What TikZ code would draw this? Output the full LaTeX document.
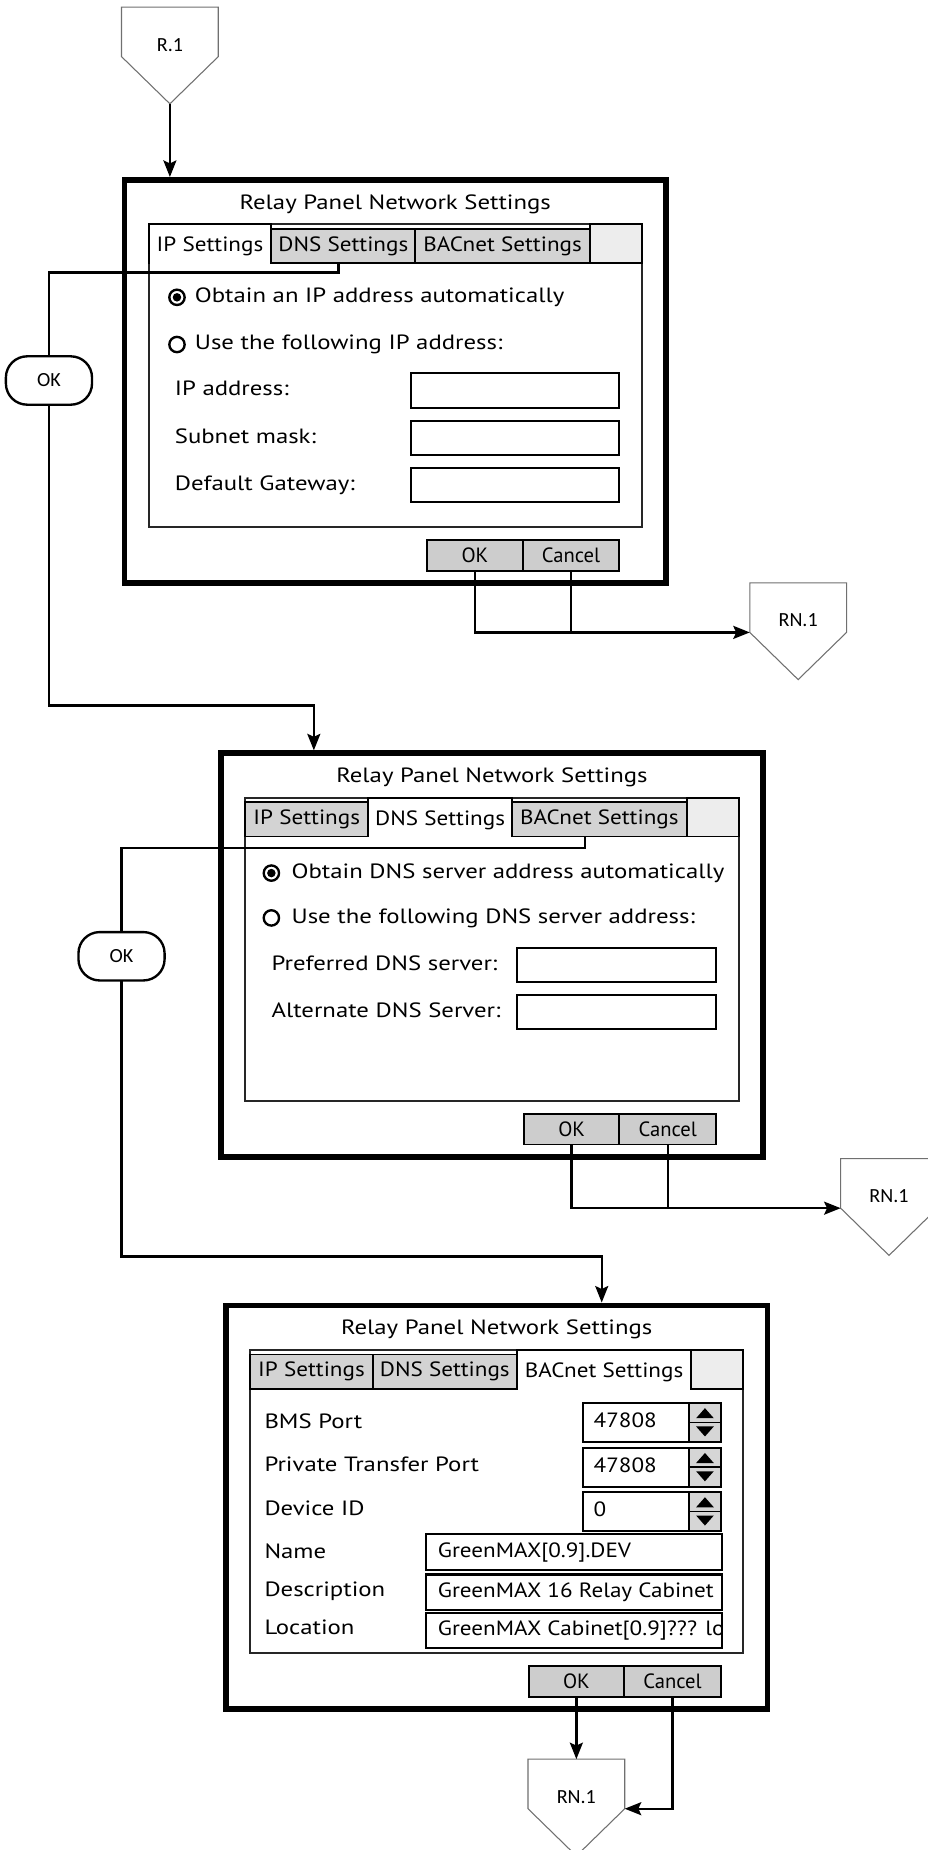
\documentclass[tikz,border=0pt]{standalone}
\usepackage{fontspec}
\setmainfont{PT Sans}[FakeStretch=1.2]
\newfontfamily\narrowfont{PT Sans}[FakeStretch=1.12]
\newfontfamily\btnfont{PT Sans}
\newfontfamily\flowfont{Carlito}
\usetikzlibrary{arrows.meta,positioning,calc}
\definecolor{tabgray}{HTML}{D3D3D3}
\definecolor{btngray}{HTML}{CDCDCD}
\definecolor{blankgray}{HTML}{EDEDED}
\definecolor{spingray}{HTML}{D6D6D6}
\definecolor{outline}{HTML}{707070}

\tikzset{
  ui/.style={font=\fontsize{17.5}{20}\selectfont},
  flowtext/.style={font=\flowfont\fontsize{17}{20}\selectfont,inner sep=0pt},
  txt/.style={ui,anchor=west,inner sep=0pt,text height=12.5pt,text depth=3.5pt},
  valtxt/.style={txt,font=\narrowfont\fontsize{17.5}{20}\selectfont},
  dlgbox/.style={draw,line width=5pt,fill=white,minimum width=459pt,
    minimum height=342pt,inner sep=0pt,anchor=north west},
  panelbox/.style={draw=black!85,line width=1.6pt,fill=white,minimum width=418pt,
    minimum height=257pt,inner sep=0pt,outer sep=0pt,anchor=north west},
  tabbox/.style={draw,line width=1.6pt,font=\narrowfont\fontsize{17.5}{20}\selectfont,
    inner sep=0pt,outer sep=0pt,anchor=south west,text height=12.5pt,text depth=3.5pt},
  acttab/.style={tabbox,fill=white,minimum height=33pt,text height=17.5pt},
  offtab/.style={tabbox,fill=tabgray,minimum height=29pt},
  btnbox/.style={draw,line width=1.6pt,fill=btngray,
    font=\btnfont\fontsize{17.5}{20}\selectfont,
    inner sep=0pt,outer sep=0pt,minimum height=26pt,anchor=north west},
  field/.style={draw,line width=1.8pt,fill=white,inner sep=0pt,outer sep=0pt,anchor=west},
  radio/.style={circle,draw,line width=2pt,minimum size=13pt,inner sep=0pt},
  radioon/.style={radio,path picture={\fill (path picture bounding box.center) circle (3.6pt);}},
  offpage/.style={minimum width=82pt,minimum height=42pt,inner sep=0pt,outer sep=0pt},
  pentline/.style={draw=outline,line width=0.9pt},
  terminal/.style={draw,line width=2pt,rounded corners=18pt,minimum width=73pt,
    minimum height=41pt,flowtext,outer sep=0pt},
  wire/.style={line width=2pt},
  flow/.style={wire,-{Stealth[length=14pt,width=11pt,inset=2.5pt]}},
}

% frame of one settings dialog: prefix, styles of the three tabs, active tab
\newcommand{\dlgframe}[5]{%
  \node[dlgbox] (#1) at (0,0) {};
  \node[ui] (#1title) at (232,23) {Relay Panel Network Settings};
  \node[panelbox] (#1panel) at (23,40) {};
  \node[tabbox,fill=blankgray,minimum width=44pt,minimum height=33pt] (#1blank) at (397,73) {};
  \node[#2,minimum width=104pt] (#1ip) at (23,73) {IP Settings};
  \node[#3,minimum width=122pt] (#1dns) at (127,73) {DNS Settings};
  \node[#4,minimum width=148pt] (#1bac) at (249,73) {BACnet Settings};
  \draw[white,line width=2pt] ([xshift=1pt]#1#5.south west) -- ([xshift=-1pt]#1#5.south east);
  \node[btnbox,minimum width=81pt] (#1ok) at (259,308) {OK};
  \node[btnbox,minimum width=82pt] (#1cancel) at (340,308) {Cancel};
}

\begin{document}
\begin{tikzpicture}[x=1pt,y=-1pt]
  \fill[white] (0,0) rectangle (786,1568);
  \useasboundingbox (0,0) rectangle (786,1568);

  % IP settings
  \begin{scope}[shift={(103,150)}]
    \dlgframe{d1}{acttab}{offtab}{offtab}{ip}
    \node[radioon] (d1auto) at (47,102) {};
    \node[txt] (d1auto-l) at (62,102) {Obtain an IP address automatically};
    \node[radio] (d1man) at (47,142) {};
    \node[txt] (d1man-l) at (62,142) {Use the following IP address:};
    \foreach \nm/\yy/\lbl in {ip/181/IP address:,mask/221/Subnet mask:,gw/261/Default Gateway:} {
      \node[txt] (d1\nm-l) at (45,\yy) {\lbl};
      \node[field,minimum width=177pt,minimum height=29pt] (d1\nm-b) at (245,\yy) {};
    }
  \end{scope}

  % DNS settings
  \begin{scope}[shift={(185,636)}]
    \dlgframe{d2}{offtab}{acttab}{offtab}{dns}
    \node[radioon] (d2auto) at (45,104) {};
    \node[txt] (d2auto-l) at (62,104) {Obtain DNS server address automatically};
    \node[radio] (d2man) at (45,142) {};
    \node[txt] (d2man-l) at (62,142) {Use the following DNS server address:};
    \foreach \nm/\yy/\lbl in {pref/182/Preferred DNS server:,alt/221.5/Alternate DNS Server:} {
      \node[txt] (d2\nm-l) at (45,\yy) {\lbl};
      \node[field,minimum width=169pt,minimum height=29pt] (d2\nm-b) at (253,\yy) {};
    }
  \end{scope}

  % BACnet settings
  \begin{scope}[shift={(189,1104)}]
    \dlgframe{d3}{offtab}{offtab}{acttab}{bac}
    \foreach \nm/\yy/\lbl in {bms/102/BMS Port,ptp/139/Private Transfer Port,dev/176/Device ID,
        name/212/Name,desc/245/Description,loc/277/Location}
      \node[txt] (d3\nm-l) at (35,\yy) {\lbl};
    \foreach \nm/\yy/\val in {bms/101.5/47808,ptp/139.5/47808,dev/177/0} {
      \node[field,minimum width=117pt,minimum height=33pt] (d3\nm-b) at (305,\yy) {};
      \fill[spingray] (395.9,\yy-15.6) rectangle (421.1,\yy+15.6);
      \draw[line width=1.6pt] (395,\yy-16.5) -- (395,\yy+16.5);
      \draw[line width=1.2pt] (395,\yy) -- (422,\yy);
      \fill (408.5,\yy-12) -- (416,\yy-3.5) -- (401,\yy-3.5) -- cycle;
      \fill (408.5,\yy+12) -- (416,\yy+3.5) -- (401,\yy+3.5) -- cycle;
      \node[valtxt] (d3\nm-v) at (314,\yy) {\val};
    }
    \foreach \nm/\yy/\val in {name/211.5/{GreenMAX[0.9].DEV},desc/245.5/{GreenMAX 16 Relay Cabinet},
        loc/278/{GreenMAX Cabinet[0.9]??? lo}} {
      \node[field,minimum width=251pt,minimum height=30pt] (d3\nm-b) at (172,\yy) {};
      \begin{scope}
        \clip ([xshift=1pt]d3\nm-b.south west) rectangle ([xshift=-1pt]d3\nm-b.north east);
        \node[valtxt] (d3\nm-v) at (182,\yy) {\val};
      \end{scope}
    }
  \end{scope}

  % off-page connectors and OK terminals
  \node[offpage] (r1) at (144,27) {};
  \node[offpage] (rn1a) at (676.5,515) {};
  \node[offpage] (rn1b) at (753.5,1003) {};
  \node[offpage] (rn1c) at (488.5,1512) {};
  \foreach \n/\lbl in {r1/R.1,rn1a/RN.1,rn1b/RN.1,rn1c/RN.1} {
    \draw[pentline] (\n.north west) -- (\n.north east) -- (\n.south east)
      -- ($(\n.south)+(0,40)$) -- (\n.south west) -- cycle;
    \coordinate (\n-tip) at ($(\n.south)+(0,40)$);
    \node[flowtext] (\n-t) at ([yshift=-11pt]\n.center) {\lbl};
  }
  \node[terminal] (ok1) at (41.5,322.5) {OK};
  \node[terminal] (ok2) at (103,810.5) {OK};

  % flow lines
  \draw[flow] (r1-tip) -- (r1-tip |- d1.north);
  \draw[wire] ([xshift=-4pt]d1dns.south) -- ++(0,8) -| (ok1.north);
  \draw[flow] (ok1.south) -- ++(0,255) -| ([xshift=81pt]d2.north west);
  \draw[flow] (d1ok.south) |- (rn1a.south west);
  \draw[wire] (d1cancel.south) -- (d1cancel.south |- rn1a.south west);
  \draw[wire] ([xshift=-12pt]d2bac.south) -- ++(0,10) -| (ok2.north);
  \draw[flow] (ok2.south) -- ++(0,234) -| ([xshift=321pt]d3.north west);
  \draw[flow] (d2ok.south) |- (rn1b.south west);
  \draw[wire] (d2cancel.south) -- (d2cancel.south |- rn1b.south west);
  \draw[flow] (d3ok.south) -- (rn1c.north);
  \draw[flow] (d3cancel.south) |- (rn1c.south east);
\end{tikzpicture}
\end{document}
